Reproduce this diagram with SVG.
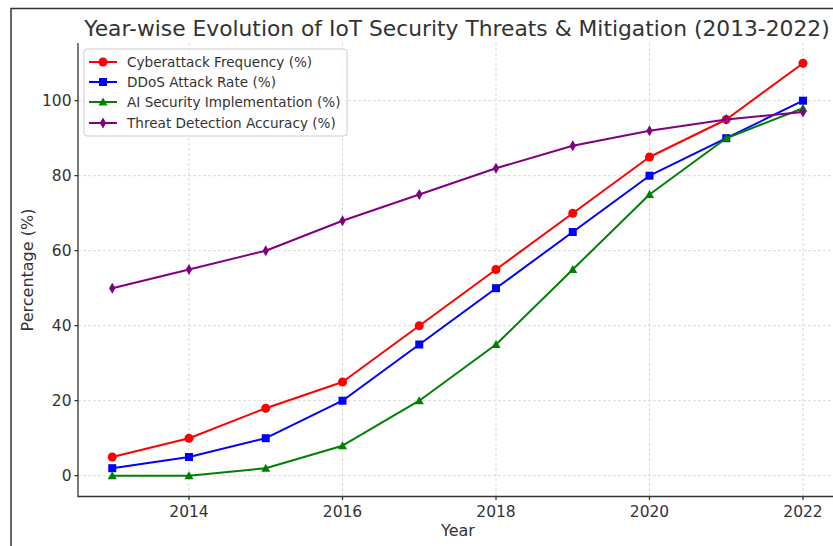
<svg xmlns="http://www.w3.org/2000/svg" width="833" height="546" viewBox="0 0 833 546">
<style>
text{font-family:"DejaVu Sans","Liberation Sans",sans-serif;fill:#333}
.tick{font-size:15.5px}
.lab{font-size:16px}
.leg{font-size:13.6px}
.grid{stroke:#cfcfcf;stroke-width:0.8;stroke-dasharray:3,2;fill:none}
.spine{stroke:#333;stroke-width:1.3;fill:none}
.s{fill:none;stroke-width:2;stroke-linejoin:round}
</style>
<defs>
<marker id="mc" markerUnits="userSpaceOnUse" markerWidth="12" markerHeight="12" refX="6" refY="6" overflow="visible"><circle cx="6" cy="6" r="4.5" fill="#ff0000"/></marker>
<marker id="ms" markerUnits="userSpaceOnUse" markerWidth="12" markerHeight="12" refX="6" refY="6" overflow="visible"><rect x="2" y="2" width="8" height="8" fill="#0000ff"/></marker>
<marker id="mt" markerUnits="userSpaceOnUse" markerWidth="12" markerHeight="12" refX="6" refY="6" overflow="visible"><polygon points="6,1.5 10.5,9.5 1.5,9.5" fill="#008000"/></marker>
<marker id="md" markerUnits="userSpaceOnUse" markerWidth="12" markerHeight="12" refX="6" refY="6" overflow="visible"><polygon points="6,0.5 9.2,6 6,11.5 2.8,6" fill="#800080"/></marker>
</defs>
<rect width="833" height="546" fill="#fff"/>
<path d="M11,546 V8.5 H833" fill="none" stroke="#333" stroke-width="1.5"/>
<text x="457" y="36" text-anchor="middle" style="font-size:21.8px">Year-wise Evolution of IoT Security Threats &amp; Mitigation (2013-2022)</text>
<g id="grid">
<path class="grid" d="M189,43V496M342.5,43V496M496,43V496M649.5,43V496M803,43V496M78,475.7H833M78,400.7H833M78,325.7H833M78,250.7H833M78,175.7H833M78,100.7H833"/>
</g>
<g id="axes">
<path class="spine" d="M78,43V496.5H833"/>
<path class="spine" d="M74.5,475.7H78M74.5,400.7H78M74.5,325.7H78M74.5,250.7H78M74.5,175.7H78M74.5,100.7H78M189,496.5V500M342.5,496.5V500M496,496.5V500M649.5,496.5V500M803,496.5V500"/>
<g class="tick" text-anchor="end">
<text x="71.5" y="481.3">0</text>
<text x="71.5" y="406.3">20</text>
<text x="71.5" y="331.3">40</text>
<text x="71.5" y="256.3">60</text>
<text x="71.5" y="181.3">80</text>
<text x="71.5" y="106.3">100</text>
</g>
<g class="tick" text-anchor="middle">
<text x="189" y="517">2014</text>
<text x="342.5" y="517">2016</text>
<text x="496" y="517">2018</text>
<text x="649.5" y="517">2020</text>
<text x="803" y="517">2022</text>
</g>
<text class="lab" x="458" y="536" text-anchor="middle">Year</text>
<text class="lab" x="0" y="0" text-anchor="middle" transform="translate(33,270) rotate(-90)">Percentage (%)</text>
</g>
<g id="series">
<polyline id="cyber" class="s" stroke="#ff0000" marker-start="url(#mc)" marker-mid="url(#mc)" marker-end="url(#mc)" points="112.25,457 189,438.2 265.75,408.2 342.5,382 419.25,325.7 496,269.5 572.75,213.2 649.5,157 726.25,119.5 803,63.2"/>
<polyline id="ddos" class="s" stroke="#0000ff" marker-start="url(#ms)" marker-mid="url(#ms)" marker-end="url(#ms)" points="112.25,468.2 189,457 265.75,438.2 342.5,400.7 419.25,344.5 496,288.2 572.75,232 649.5,175.7 726.25,138.2 803,100.7"/>
<polyline id="ai" class="s" stroke="#008000" marker-start="url(#mt)" marker-mid="url(#mt)" marker-end="url(#mt)" points="112.25,475.7 189,475.7 265.75,468.2 342.5,445.7 419.25,400.7 496,344.5 572.75,269.5 649.5,194.5 726.25,138.2 803,108.2"/>
<polyline id="threat" class="s" stroke="#800080" marker-start="url(#md)" marker-mid="url(#md)" marker-end="url(#md)" points="112.25,288.2 189,269.5 265.75,250.7 342.5,220.7 419.25,194.5 496,168.2 572.75,145.7 649.5,130.7 726.25,119.5 803,112"/>
</g>
<g id="legend">
<rect x="84" y="49" width="263" height="87" rx="3" fill="#fff" fill-opacity="0.8" stroke="#cccccc" stroke-width="1"/>
<polyline class="s" stroke="#ff0000" marker-mid="url(#mc)" points="89,62 103,62 117,62"/>
<polyline class="s" stroke="#0000ff" marker-mid="url(#ms)" points="89,82 103,82 117,82"/>
<polyline class="s" stroke="#008000" marker-mid="url(#mt)" points="89,102 103,102 117,102"/>
<polyline class="s" stroke="#800080" marker-mid="url(#md)" points="89,123 103,123 117,123"/>
<text class="leg" x="127" y="67">Cyberattack Frequency (%)</text>
<text class="leg" x="127" y="87">DDoS Attack Rate (%)</text>
<text class="leg" x="127" y="107">AI Security Implementation (%)</text>
<text class="leg" x="127" y="128">Threat Detection Accuracy (%)</text>
</g>
</svg>
